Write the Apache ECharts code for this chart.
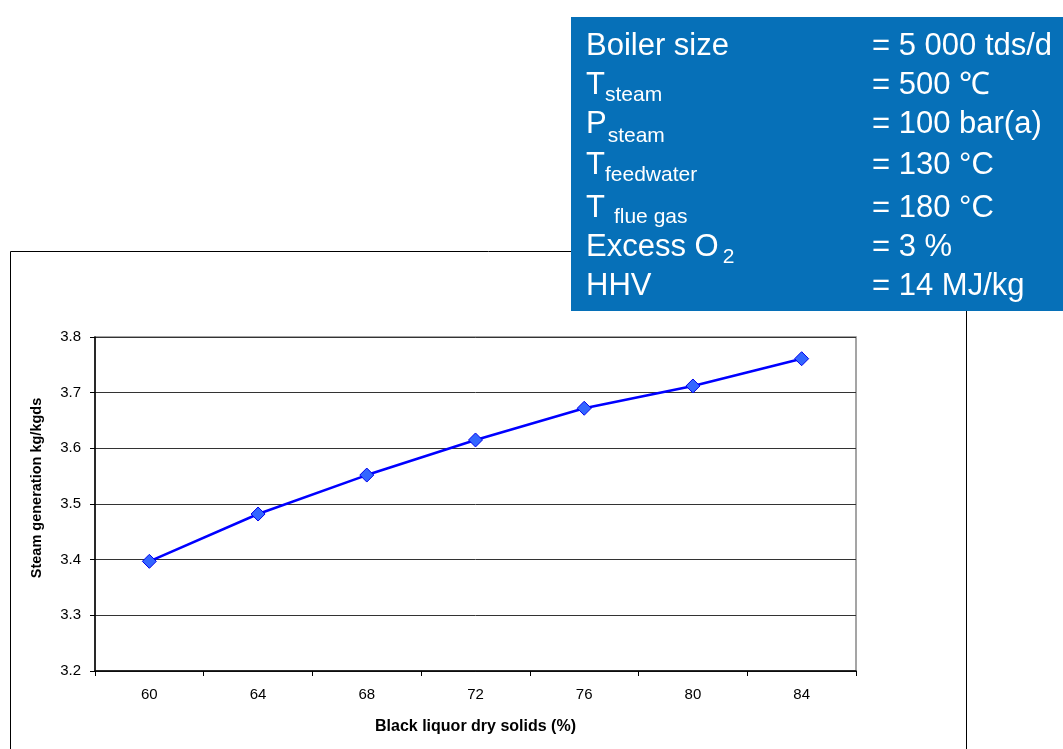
<!DOCTYPE html>
<html>
<head>
<meta charset="utf-8">
<script src="https://cdn.jsdelivr.net/npm/echarts@6/dist/echarts.min.js"></script>
<style>
html,body{margin:0;padding:0;background:#fff;}
#chart{width:1063px;height:749px;}
</style>
</head>
<body>
<div id="chart"></div>
<script>
// ---- data ----
const categories = ['60', '64', '68', '72', '76', '80', '84'];
const steamGeneration = [3.397, 3.482, 3.552, 3.615, 3.672, 3.712, 3.761];
const yMin = 3.2, yMax = 3.8, yStep = 0.1;
const xTitle = 'Black liquor dry solids (%)';
const yTitle = 'Steam generation kg/kgds';

// info box rows: main label, subscript, value
const boxMain = ['Boiler size', 'T', 'P', 'T', 'T', 'Excess O', 'HHV'];
const boxSub = ['', 'steam', 'steam', 'feedwater', 'flue gas', '2', ''];
const boxValue = ['= 5 000 tds/d', '= 500 ℃', '= 100 bar(a)', '= 130 °C', '= 180 °C', '= 3 %', '= 14 MJ/kg'];

// ---- layout (styles only) ----
const FONT = '"Liberation Sans", Arial, sans-serif';
const MAIN_FONT = '31px ' + FONT;
const SUB_FONT = '21px ' + FONT;
const rowCenter = [46, 85, 124, 165, 208, 247, 286];
const subGap = [0, 0, 1, 0, 9, 4, 0];
const subCenter = [0, 95, 136, 175, 217, 257, 0];

const ctx = document.createElement('canvas').getContext('2d');
ctx.font = MAIN_FONT;

const graphics = [
  { type: 'rect', z: 0, shape: { x: 10.5, y: 251.5, width: 956, height: 540 },
    style: { fill: 'none', stroke: '#000', lineWidth: 1 }, silent: true },
  { type: 'rect', z: 10, shape: { x: 571, y: 17, width: 492, height: 294 },
    style: { fill: '#0670b8' }, silent: true }
];
for (let i = 0; i < boxMain.length; i++) {
  graphics.push({ type: 'text', z: 11, x: 586, y: rowCenter[i],
    style: { text: boxMain[i], fill: '#fff', font: MAIN_FONT, verticalAlign: 'middle', align: 'left' } });
  if (boxSub[i]) {
    const w = ctx.measureText(boxMain[i]).width;
    graphics.push({ type: 'text', z: 11, x: 586 + w + subGap[i], y: subCenter[i],
      style: { text: boxSub[i], fill: '#fff', font: SUB_FONT, verticalAlign: 'middle', align: 'left' } });
  }
  graphics.push({ type: 'text', z: 11, x: 872, y: rowCenter[i],
    style: { text: boxValue[i], fill: '#fff', font: MAIN_FONT, verticalAlign: 'middle', align: 'left' } });
}

const chart = echarts.init(document.getElementById('chart'), null, { renderer: 'canvas' });
chart.setOption({
  animation: false,
  backgroundColor: '#fff',
  grid: { left: 95, right: 207, top: 337, bottom: 78, show: true, borderColor: '#888', borderWidth: 1.5, backgroundColor: 'transparent' },
  xAxis: {
    type: 'category',
    data: categories,
    boundaryGap: true,
    name: xTitle,
    nameLocation: 'middle',
    nameGap: 48,
    nameTextStyle: { fontFamily: FONT, fontSize: 16, fontWeight: 'bold', color: '#000' },
    axisLine: { lineStyle: { color: '#000', width: 1.5 } },
    axisTick: { show: true, length: 5, alignWithLabel: false, lineStyle: { color: '#000' } },
    axisLabel: { fontFamily: FONT, fontSize: 15, color: '#000', margin: 16 },
    splitLine: { show: false }
  },
  yAxis: {
    type: 'value',
    min: yMin, max: yMax, interval: yStep,
    name: yTitle,
    nameLocation: 'middle',
    nameGap: 51,
    nameTextStyle: { fontFamily: FONT, fontSize: 14.5, fontWeight: 'bold', color: '#000', padding: [0, 0, 0, 32] },
    axisLine: { show: true, lineStyle: { color: '#000', width: 1.5 } },
    axisTick: { show: true, length: 5, lineStyle: { color: '#000' } },
    axisLabel: { fontFamily: FONT, fontSize: 15, color: '#000', margin: 14, formatter: v => v.toFixed(1) },
    splitLine: { show: true, lineStyle: { color: '#333', width: 1 } }
  },
  series: [{
    type: 'line',
    data: steamGeneration,
    symbol: 'diamond',
    symbolSize: 14,
    lineStyle: { color: '#0000ff', width: 2.5 },
    itemStyle: { color: '#3366ff', borderColor: '#0000ee', borderWidth: 1 },
    z: 5
  }],
  graphic: graphics
});
</script>
</body>
</html>
